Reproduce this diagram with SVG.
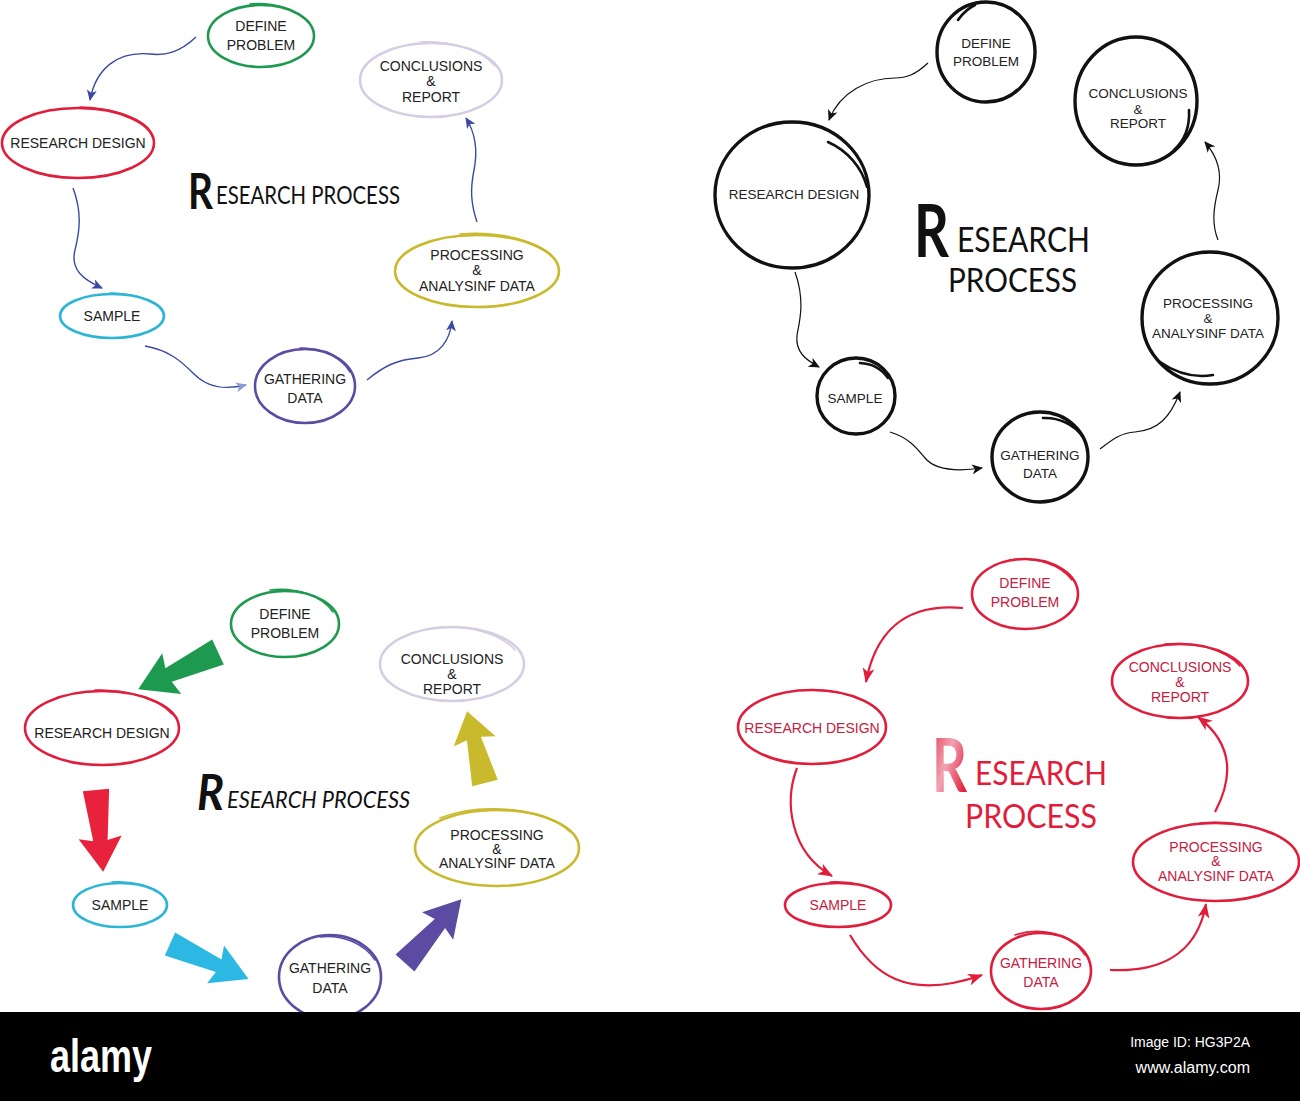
<svg xmlns="http://www.w3.org/2000/svg" width="1300" height="1101" viewBox="0 0 1300 1101">
<style>
text{font-family:"Liberation Sans","DejaVu Sans",sans-serif;}
.lb{font-size:14px;fill:#222;text-anchor:middle;}
.lbs{font-size:13.5px;fill:#222;text-anchor:middle;}
.lbr{font-size:14px;fill:#c42040;text-anchor:middle;}
.n{fill:none;stroke-width:2.6;}
.tl{fill:none;stroke-width:1.6;stroke-linecap:round;}
.bk{fill:none;stroke:#111;stroke-width:3.4;}
.bkt{fill:none;stroke:#111;stroke-width:2.6;stroke-linecap:round;}
.ttl{font-family:Lato,"Open Sans","Liberation Sans",sans-serif;fill:#111;}
.c1{stroke:#3a4aa3;stroke-width:1.4;fill:none;}
.c2{stroke:#111;stroke-width:1.2;fill:none;}
.c4{stroke:#e01e3c;stroke-width:2.2;fill:none;}
</style>
<defs>
<marker id="mb" markerUnits="userSpaceOnUse" markerWidth="12" markerHeight="10" refX="10" refY="5" orient="auto"><path d="M0,0 L11,5 L0,10 L3,5 Z" fill="#3a4aa3"/></marker>
<marker id="mbl" markerUnits="userSpaceOnUse" markerWidth="12" markerHeight="10" refX="10" refY="5" orient="auto"><path d="M0,0 L11,5 L0,10 L3,5 Z" fill="#8c9ad6"/></marker>
<marker id="mk" markerUnits="userSpaceOnUse" markerWidth="12" markerHeight="10" refX="10" refY="5" orient="auto"><path d="M0,0 L11,5 L0,10 L3,5 Z" fill="#111"/></marker>
<marker id="mr" markerUnits="userSpaceOnUse" markerWidth="16" markerHeight="12" refX="14" refY="6" orient="auto"><path d="M0,0 L15,6 L0,12 L4,6 Z" fill="#e01e3c"/></marker>
<path id="blk" d="M0,-11 L62,-6 L58,-18 L100,0 L58,18 L62,6 L0,11 Z"/>
<linearGradient id="rg" x1="0" y1="0" x2="1" y2="0.2">
<stop offset="0" stop-color="#e0304c"/><stop offset="0.15" stop-color="#f2a3b3"/><stop offset="0.3" stop-color="#e01e3c"/><stop offset="0.55" stop-color="#e01e3c"/><stop offset="0.66" stop-color="#f0a0b0"/><stop offset="0.78" stop-color="#e01e3c"/><stop offset="1" stop-color="#e01e3c"/>
</linearGradient>
</defs>

<!-- ============ Q1 (top-left) ============ -->
<g id="q1-define"><ellipse class="n" stroke="#1e9a50" cx="261" cy="36" rx="53" ry="31"/><path class="tl" stroke="#1e9a50" d="M250,4 A56,34 0 0 1 308,22"/><text class="lb" x="261" y="31">DEFINE</text><text class="lb" x="261" y="50">PROBLEM</text></g>
<g id="q1-research"><ellipse class="n" stroke="#e01e3c" cx="78" cy="143" rx="76" ry="35"/><path class="tl" stroke="#e01e3c" d="M80,107 A79,38 0 0 1 148,128"/><text class="lb" x="78" y="148">RESEARCH DESIGN</text></g>
<g id="q1-conclusions"><ellipse class="n" stroke="#d6cde3" cx="431" cy="80" rx="71" ry="37"/><path class="tl" stroke="#d6cde3" d="M420,42 A74,40 0 0 1 495,66"/><text class="lb" x="431" y="71">CONCLUSIONS</text><text class="lb" x="431" y="86">&amp;</text><text class="lb" x="431" y="102">REPORT</text></g>
<g id="q1-processing"><ellipse class="n" stroke="#c9b92c" cx="477" cy="271" rx="82" ry="36"/><path class="tl" stroke="#c9b92c" d="M460,234 A85,39 0 0 1 552,256"/><text class="lb" x="477" y="260">PROCESSING</text><text class="lb" x="477" y="275">&amp;</text><text class="lb" x="477" y="291">ANALYSINF DATA</text></g>
<g id="q1-sample"><ellipse class="n" stroke="#2bb5d6" cx="112" cy="316" rx="52" ry="22"/><path class="tl" stroke="#2bb5d6" d="M110,293 A55,25 0 0 1 158,306"/><text class="lb" x="112" y="321">SAMPLE</text></g>
<g id="q1-gathering"><ellipse class="n" stroke="#5b4ba3" cx="305" cy="386" rx="50" ry="37"/><path class="tl" stroke="#5b4ba3" d="M300,348 A53,40 0 0 1 350,372"/><text class="lb" x="305" y="384">GATHERING</text><text class="lb" x="305" y="403">DATA</text></g>
<g id="q1-title"><text class="ttl"><tspan x="188" y="209" font-size="50" font-weight="700" textLength="25" lengthAdjust="spacingAndGlyphs">R</tspan><tspan x="216" y="204" font-size="25" textLength="184" lengthAdjust="spacingAndGlyphs">ESEARCH PROCESS</tspan></text></g>
<g id="q1-connectors">
<path class="c1" marker-end="url(#mb)" d="M196,37 C180,52 166,56 150,54 C118,51 96,68 90,100"/>
<path class="c1" marker-end="url(#mb)" d="M73,188 C82,212 80,230 75,250 C70,270 84,280 102,288"/>
<path class="c1" stroke="#6a78c0" marker-end="url(#mbl)" d="M145,346 C168,350 180,360 194,374 C208,388 225,390 246,385"/>
<path class="c1" marker-end="url(#mb)" d="M367,380 C384,366 396,360 418,358 C440,356 450,340 452,321"/>
<path class="c1" marker-end="url(#mb)" d="M477,222 C471,204 470,190 474,170 C478,150 476,134 466,118"/>
</g>

<!-- ============ Q2 (top-right) ============ -->
<g id="q2-define"><ellipse class="bk" cx="986" cy="52" rx="49" ry="50"/><path class="bkt" d="M958,20 A45,46 0 0 1 975,5"/><text class="lbs" x="986" y="48">DEFINE</text><text class="lbs" x="986" y="66">PROBLEM</text></g>
<g id="q2-research"><ellipse class="bk" cx="792" cy="195" rx="77" ry="73"/><path class="bkt" d="M828,142 A72,68 0 0 1 867,187"/><text class="lbs" x="794" y="199">RESEARCH DESIGN</text></g>
<g id="q2-conclusions"><ellipse class="bk" cx="1136" cy="101" rx="61" ry="64"/><path class="bkt" d="M1189,110 C1190,128 1185,140 1174,150"/><text class="lbs" x="1138" y="98">CONCLUSIONS</text><text class="lbs" x="1138" y="114">&amp;</text><text class="lbs" x="1138" y="128">REPORT</text></g>
<g id="q2-processing"><ellipse class="bk" cx="1210" cy="318" rx="68" ry="66"/><path class="bkt" d="M1160,362 C1176,373 1195,378 1213,375"/><text class="lbs" x="1208" y="308">PROCESSING</text><text class="lbs" x="1208" y="323">&amp;</text><text class="lbs" x="1208" y="338">ANALYSINF DATA</text></g>
<g id="q2-sample"><ellipse class="bk" cx="856" cy="396" rx="39" ry="38"/><path class="bkt" d="M860,363 A36,35 0 0 1 888,378"/><text class="lbs" x="855" y="403">SAMPLE</text></g>
<g id="q2-gathering"><ellipse class="bk" cx="1040" cy="457" rx="48" ry="45"/><path class="bkt" d="M1043,418 A45,42 0 0 1 1083,437"/><text class="lbs" x="1040" y="460">GATHERING</text><text class="lbs" x="1040" y="478">DATA</text></g>
<g id="q2-title"><text class="ttl"><tspan x="914" y="257" font-size="73" font-weight="700" textLength="35" lengthAdjust="spacingAndGlyphs">R</tspan><tspan x="957" y="252" font-size="34" textLength="133" lengthAdjust="spacingAndGlyphs">ESEARCH</tspan><tspan x="948" y="291.5" font-size="32" textLength="129" lengthAdjust="spacingAndGlyphs">PROCESS</tspan></text></g>
<g id="q2-connectors">
<path class="c2" marker-end="url(#mk)" d="M928,63 C915,75 906,78 895,78 C868,78 840,92 829,120"/>
<path class="c2" marker-end="url(#mk)" d="M795,272 C805,300 800,320 797,335 C795,352 806,360 819,367"/>
<path class="c2" marker-end="url(#mk)" d="M890,432 C910,438 918,450 925,458 C935,470 955,472 982,468"/>
<path class="c2" marker-end="url(#mk)" d="M1100,449 C1112,440 1120,433 1135,432 C1158,430 1170,418 1180,392"/>
<path class="c2" marker-end="url(#mk)" d="M1218,240 C1212,225 1213,210 1218,190 C1223,170 1216,155 1205,142"/>
</g>

<!-- ============ Q3 (bottom-left) ============ -->
<g id="q3-define"><ellipse class="n" stroke="#1e9a50" cx="285" cy="624" rx="54" ry="33"/><path class="tl" stroke="#1e9a50" d="M270,590 A57,36 0 0 1 333,612"/><text class="lb" x="285" y="619">DEFINE</text><text class="lb" x="285" y="638">PROBLEM</text></g>
<g id="q3-research"><ellipse class="n" stroke="#e01e3c" cx="102" cy="728" rx="77" ry="37"/><path class="tl" stroke="#e01e3c" d="M95,690 A80,40 0 0 1 172,714"/><text class="lb" x="102" y="738">RESEARCH DESIGN</text></g>
<g id="q3-conclusions"><ellipse class="n" stroke="#d6cde3" cx="452" cy="664" rx="72" ry="37"/><path class="tl" stroke="#d6cde3" d="M440,627 A75,40 0 0 1 515,650"/><text class="lb" x="452" y="664">CONCLUSIONS</text><text class="lb" x="452" y="679">&amp;</text><text class="lb" x="452" y="694">REPORT</text></g>
<g id="q3-processing"><ellipse class="n" stroke="#c9b92c" cx="497" cy="848" rx="82" ry="38"/><path class="tl" stroke="#c9b92c" d="M440,818 A85,41 0 0 1 570,832"/><text class="lb" x="497" y="840">PROCESSING</text><text class="lb" x="497" y="854">&amp;</text><text class="lb" x="497" y="868">ANALYSINF DATA</text></g>
<g id="q3-sample"><ellipse class="n" stroke="#2bb5d6" cx="120" cy="905" rx="47" ry="22"/><path class="tl" stroke="#2bb5d6" d="M112,882 A50,25 0 0 1 162,895"/><text class="lb" x="120" y="910">SAMPLE</text></g>
<g id="q3-gathering"><ellipse class="n" stroke="#5b4ba3" cx="330" cy="977" rx="51" ry="42"/><path class="tl" stroke="#5b4ba3" d="M320,937 A54,45 0 0 1 375,960"/><text class="lb" x="330" y="973">GATHERING</text><text class="lb" x="330" y="993">DATA</text></g>
<g id="q3-title"><text class="ttl" font-style="italic"><tspan x="197" y="810" font-size="50" font-weight="700" textLength="27" lengthAdjust="spacingAndGlyphs">R</tspan><tspan x="227" y="808" font-size="23" textLength="183" lengthAdjust="spacingAndGlyphs">ESEARCH PROCESS</tspan></text></g>
<g id="q3-connectors">
<use href="#blk" fill="#1e9a50" transform="translate(218,652) rotate(155) scale(0.88,1.25)"/>
<use href="#blk" fill="#e8213d" transform="translate(96,790) rotate(85) scale(0.82,1.2)"/>
<use href="#blk" fill="#2bb8e3" transform="translate(170,944) rotate(24) scale(0.86,1.15)"/>
<use href="#blk" fill="#5b4ba3" transform="translate(405,963) rotate(-48.5) scale(0.85,1.15)"/>
<use href="#blk" fill="#c9b92c" transform="translate(485,783) rotate(-104) scale(0.74,1.2)"/>
</g>

<!-- ============ Q4 (bottom-right) ============ -->
<g id="q4-define"><ellipse class="n" stroke="#e01e3c" cx="1025" cy="594" rx="53" ry="35"/><path class="tl" stroke="#e01e3c" d="M1010,560 A56,38 0 0 1 1072,580"/><text class="lbr" x="1025" y="588">DEFINE</text><text class="lbr" x="1025" y="607">PROBLEM</text></g>
<g id="q4-research"><ellipse class="n" stroke="#e01e3c" cx="812" cy="727" rx="74" ry="37"/><path class="tl" stroke="#e01e3c" d="M810,690 A77,40 0 0 1 880,712"/><text class="lbr" x="812" y="733">RESEARCH DESIGN</text></g>
<g id="q4-conclusions"><ellipse class="n" stroke="#e01e3c" cx="1180" cy="681" rx="68" ry="37"/><path class="tl" stroke="#e01e3c" d="M1165,644 A71,40 0 0 1 1240,666"/><text class="lbr" x="1180" y="672">CONCLUSIONS</text><text class="lbr" x="1180" y="687">&amp;</text><text class="lbr" x="1180" y="702">REPORT</text></g>
<g id="q4-processing"><ellipse class="n" stroke="#e01e3c" cx="1216" cy="862" rx="83" ry="39"/><path class="tl" stroke="#e01e3c" d="M1200,823 A86,42 0 0 1 1292,846"/><text class="lbr" x="1216" y="852">PROCESSING</text><text class="lbr" x="1216" y="866">&amp;</text><text class="lbr" x="1216" y="881">ANALYSINF DATA</text></g>
<g id="q4-sample"><ellipse class="n" stroke="#e01e3c" cx="838" cy="905" rx="53" ry="22"/><path class="tl" stroke="#e01e3c" d="M830,882 A56,25 0 0 1 885,895"/><text class="lbr" x="838" y="910">SAMPLE</text></g>
<g id="q4-gathering"><ellipse class="n" stroke="#e01e3c" cx="1041" cy="971" rx="50" ry="38"/><path class="tl" stroke="#e01e3c" d="M1015,935 A53,41 0 0 1 1085,955"/><text class="lbr" x="1041" y="968">GATHERING</text><text class="lbr" x="1041" y="987">DATA</text></g>
<g id="q4-title"><text class="ttl" style="fill:#e01e3c"><tspan x="932" y="792" font-size="75" font-weight="700" textLength="35" lengthAdjust="spacingAndGlyphs" style="fill:url(#rg)">R</tspan><tspan x="975" y="785" font-size="32" textLength="132" lengthAdjust="spacingAndGlyphs">ESEARCH</tspan><tspan x="965" y="828" font-size="32" textLength="132" lengthAdjust="spacingAndGlyphs">PROCESS</tspan></text></g>
<g id="q4-connectors">
<path class="c4" marker-end="url(#mr)" d="M963,608 C920,604 878,618 866,682"/>
<path class="c4" marker-end="url(#mr)" d="M797,768 C784,802 790,852 832,876"/>
<path class="c4" marker-end="url(#mr)" d="M850,935 C872,972 905,1002 982,975"/>
<path class="c4" marker-end="url(#mr)" d="M1110,970 C1152,972 1196,960 1206,904"/>
<path class="c4" marker-end="url(#mr)" d="M1215,812 C1232,780 1235,745 1198,717"/>
</g>

<!-- ============ footer ============ -->
<g id="footer">
<rect x="0" y="1012" width="1300" height="89" fill="#000"/>
<text x="50" y="1072" font-size="46" font-weight="bold" fill="#fff" textLength="102" lengthAdjust="spacingAndGlyphs" style="font-family:'Liberation Sans Narrow','Liberation Sans',sans-serif">alamy</text>
<text x="1250" y="1047" font-size="14" fill="#fff" text-anchor="end">Image ID: HG3P2A</text>
<text x="1250" y="1073" font-size="16" fill="#fff" text-anchor="end">www.alamy.com</text>
</g>
</svg>
